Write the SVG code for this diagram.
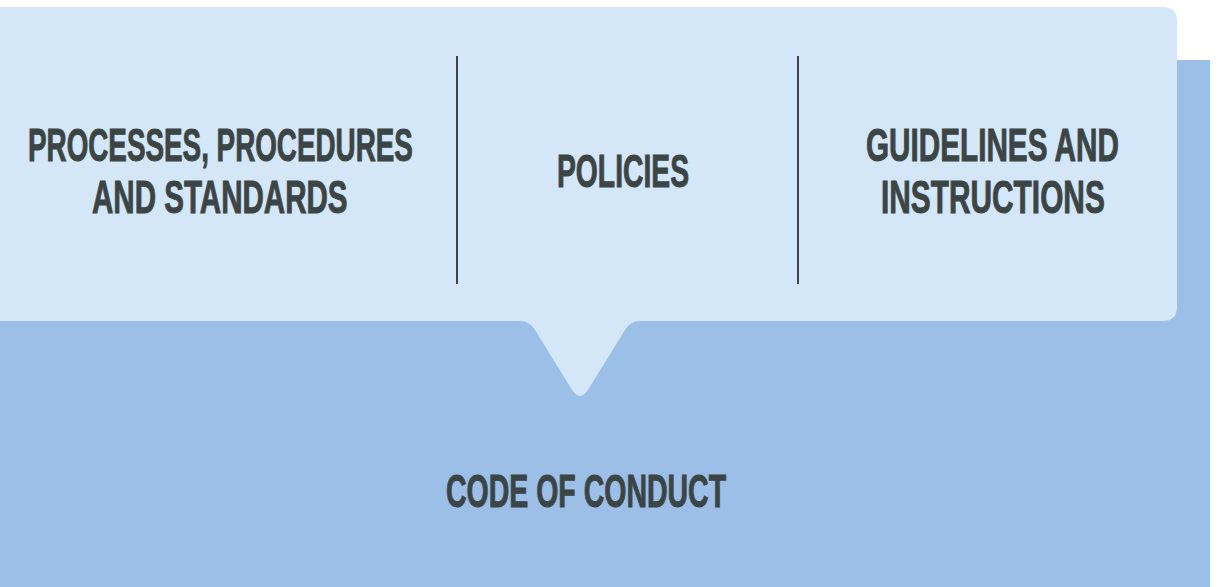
<svg xmlns="http://www.w3.org/2000/svg" width="1228" height="587" viewBox="0 0 1228 587">
<style>
.t{font-family:"Liberation Sans",Arial,sans-serif;font-weight:bold;font-size:47px;fill:#3c4545;stroke:#3c4545;stroke-width:1px;}
.div{fill:#3c4545;}
</style>
<rect x="0" y="0" width="1228" height="587" fill="#ffffff"/>
<g id="code-of-conduct">
<rect x="0" y="60" width="1210" height="527" fill="#9bbfe6"/>
<text class="t" transform="translate(446,507) scale(0.606,1)" x="0" y="0">CODE OF CONDUCT</text>
</g>
<g id="callout">
<path d="M0,7 H1163 Q1177,7 1177,21 V307 Q1177,321 1163,321 H640 Q630.5,321 625,330 L588.5,389 Q580,403 571.5,389 L535,330 Q529.5,321 520,321 H0 Z" fill="#d3e7f8"/>
</g>
<g id="connectors">
<rect class="div" x="456" y="56" width="2" height="228"/>
<rect class="div" x="797" y="56" width="2" height="228"/>
</g>
<g id="processes">
<text class="t" transform="translate(28,161) scale(0.592,1)" x="0" y="0">PROCESSES, PROCEDURES</text>
<text class="t" transform="translate(92,213) scale(0.629,1)" x="0" y="0">AND STANDARDS</text>
</g>
<g id="policies">
<text class="t" transform="translate(557,187) scale(0.602,1)" x="0" y="0">POLICIES</text>
</g>
<g id="guidelines">
<text class="t" transform="translate(866,161) scale(0.632,1)" x="0" y="0">GUIDELINES AND</text>
<text class="t" transform="translate(881,213) scale(0.635,1)" x="0" y="0">INSTRUCTIONS</text>
</g>
</svg>
